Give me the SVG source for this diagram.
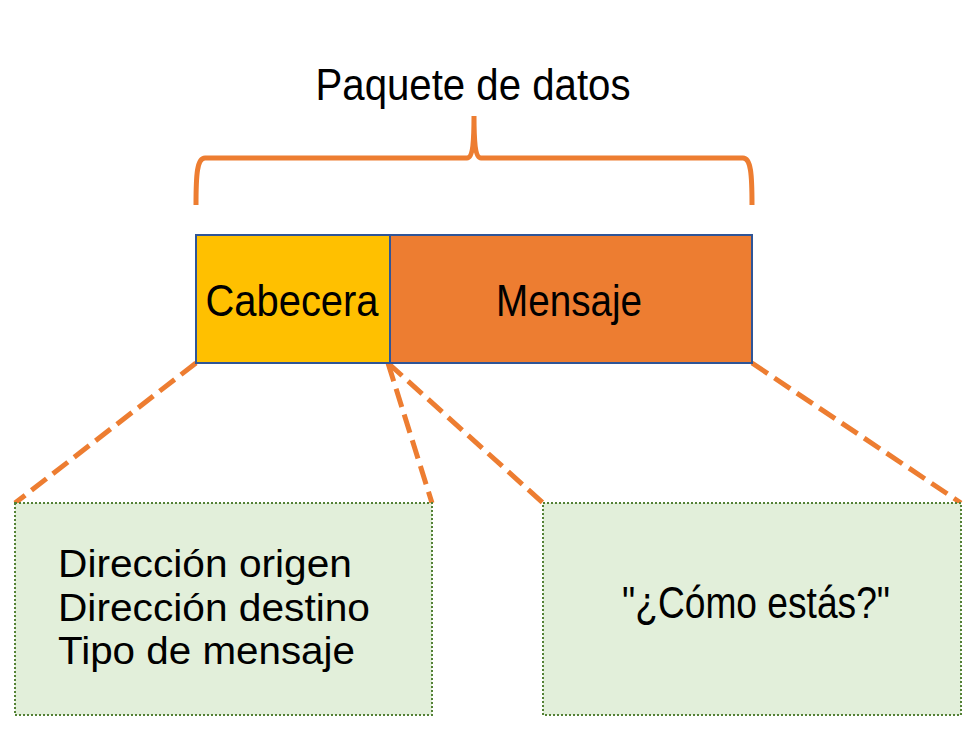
<svg xmlns="http://www.w3.org/2000/svg" width="964" height="729" viewBox="0 0 964 729">
<style>
text{font-family:"Liberation Sans Narrow","Liberation Sans",Arial,sans-serif;font-size:44px;fill:#000}
.ln{font-size:38px}
.dash{stroke:#ED7D31;stroke-width:5;stroke-dasharray:19 8;fill:none}
.seg{stroke:#2F5597;stroke-width:2}
.box{fill:#E2EFDA;stroke:#538135;stroke-width:2;stroke-dasharray:2 2}
</style>
<rect width="964" height="729" fill="#fff"/>
<g id="title">
<text x="473" y="100" text-anchor="middle" textLength="315" lengthAdjust="spacingAndGlyphs">Paquete de datos</text>
<path d="M196 205 C196 175 197 158 205 158 L467 158 C473 158 474 140 474 116 C474 140 475 158 481 158 L743 158 C751 158 752 175 752 205" fill="none" stroke="#ED7D31" stroke-width="5"/>
</g>
<g id="connectors">
<line class="dash" x1="196" y1="363" x2="15" y2="503"/>
<line class="dash" x1="388" y1="363" x2="432" y2="503"/>
<line class="dash" x1="388" y1="363" x2="543" y2="503"/>
<line class="dash" x1="752" y1="363" x2="961" y2="503"/>
</g>
<g id="cabecera">
<rect class="seg" x="196" y="235" width="194" height="128" fill="#FFC000"/>
<text x="292" y="316" text-anchor="middle" textLength="173" lengthAdjust="spacingAndGlyphs">Cabecera</text>
</g>
<g id="mensaje">
<rect class="seg" x="390" y="235" width="362" height="128" fill="#ED7D31"/>
<text x="569" y="316" text-anchor="middle" textLength="146" lengthAdjust="spacingAndGlyphs">Mensaje</text>
</g>
<g id="header-fields">
<rect class="box" x="15" y="503" width="417" height="212"/>
<text class="ln" x="58" y="577" textLength="294" lengthAdjust="spacingAndGlyphs">Dirección origen</text>
<text class="ln" x="58" y="621" textLength="312" lengthAdjust="spacingAndGlyphs">Dirección destino</text>
<text class="ln" x="58" y="664" textLength="297" lengthAdjust="spacingAndGlyphs">Tipo de mensaje</text>
</g>
<g id="message-content">
<rect class="box" x="543" y="503" width="418" height="212"/>
<text x="756" y="618" text-anchor="middle" textLength="268" lengthAdjust="spacingAndGlyphs">"¿Cómo estás?"</text>
</g>
</svg>
